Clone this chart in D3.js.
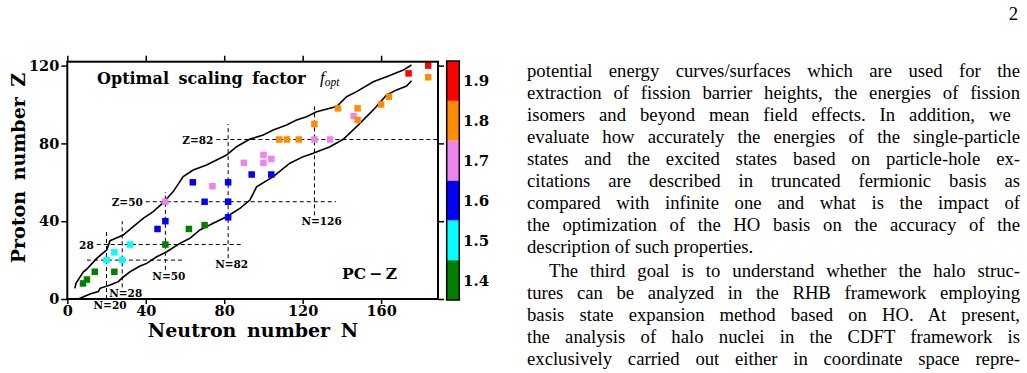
<!DOCTYPE html>
<html>
<head>
<meta charset="utf-8">
<script src="https://cdn.jsdelivr.net/npm/d3@7"></script>
<style>
body{margin:0;background:#fff;}
svg{display:block;}
.axis text{font-family:"DejaVu Serif";font-weight:bold;font-size:14.5px;fill:#000;}
.axis line{stroke:#000;stroke-width:1.5;}
.axis path{display:none;}
</style>
</head>
<body>
<script>
//page size
var w = 1027, h = 373;

//nuclei (neutron number, proton number, optimal scaling factor)
var nucN = [8, 10, 14, 24, 50, 62, 70,
            20, 24, 28, 32,
            46, 50, 70, 82, 82, 82, 64, 94, 104,
            50, 74, 90, 100, 100, 104, 126, 134, 146,
            108, 112, 118, 126, 138, 148, 148, 160, 164, 184,
            174, 184];
var nucZ = [8, 10, 14, 14, 28, 36, 38,
            20, 24, 20, 28,
            36, 40, 50, 50, 42, 60, 60, 64, 64,
            50, 58, 70, 74, 70, 72, 82, 82, 94,
            82, 82, 82, 90, 98, 98, 92, 100, 104, 114,
            116, 120];
var fOpt = [1.4, 1.4, 1.4, 1.4, 1.4, 1.4, 1.4,
            1.5, 1.5, 1.5, 1.5,
            1.6, 1.6, 1.6, 1.6, 1.6, 1.6, 1.6, 1.6, 1.6,
            1.7, 1.7, 1.7, 1.7, 1.7, 1.7, 1.7, 1.7, 1.7,
            1.8, 1.8, 1.8, 1.8, 1.8, 1.8, 1.8, 1.8, 1.8, 1.8,
            1.9, 1.9];

//proton drip line
var pDripN = [3.9, 4.4, 8.2, 9.5, 15.0, 20.1, 21.8, 23.5, 28.5, 33.6, 38.7, 43.8, 48.9, 54.0,
              59.1, 64.2, 71.0, 76.1, 81.2, 86.3, 93.1, 99.9, 105, 111.8, 116.9, 122, 127.1,
              137.3, 142.4, 147.5, 156, 162.8, 171.3, 175.5];
var pDripZ = [5.5, 8.1, 14.0, 14.9, 20.9, 25.2, 30.0, 30.7, 32.9, 37.2, 41.5, 44.9, 49.5, 55.2,
              62.9, 66.3, 68.9, 71.5, 74.0, 78.3, 82.2, 84.3, 86.9, 89.5, 92.0, 93.7, 96.3,
              98.9, 104, 106.6, 111.7, 114.3, 117.7, 120.3];
//neutron drip line
var nDripN = [5.6, 11.6, 15.8, 16.7, 21.8, 26, 27.7, 32, 37.1, 40.5, 45.6, 50.7, 57.4, 62.5,
              67.6, 74.4, 81.2, 88, 93.1, 96.5, 105, 113.5, 120.3, 125.4, 133.9, 140.7, 147.5,
              156, 162.8, 167.9, 173, 175.5];
var nDripZ = [0, 2.6, 3.8, 5.5, 7.2, 8.9, 10.6, 14, 17, 18.3, 21.7, 24.3, 28.6, 31.2,
              35.5, 38.9, 42.3, 46.6, 50.9, 57.7, 62.9, 69.8, 73.2, 74.9, 78.3, 82.1, 88.6,
              97.2, 104.9, 107.5, 109.5, 112.2];

//magic numbers: vertical (N) and horizontal (Z) dashed lines
var magicN = [20, 28, 50, 82, 126];
var magicNfrom = [0, 6, 15, 21, 43];
var magicNto = [35, 40, 55, 90, 100];
var magicNlabel = ["N=20", "N=28", "N=50", "N=82", "N=126"];
var magicZ = [20, 28, 50, 82];
var magicZfrom = [10, 15, 40, 76];
var magicZto = [60, 89, 137, 189];
var magicZlabel = ["", "28", "Z=50", "Z=82"];

//axis ticks
var xTicks = [0, 40, 80, 120, 160];
var yTicks = [0, 40, 80, 120];

//colour bar
var cbLevels = [1.4, 1.5, 1.6, 1.7, 1.8, 1.9];
var cbColors = ["#007f00", "#00ffff", "#0000ff", "#ee82ee", "#ff8c00", "#ff0000"];

//text column on the right
var bodyLines = [
    "potential energy curves/surfaces which are used for the",
    "extraction of fission barrier heights, the energies of fission",
    "isomers and beyond mean field effects.  In addition, we",
    "evaluate how accurately the energies of the single-particle",
    "states and the excited states based on particle-hole ex-",
    "citations are described in truncated fermionic basis as",
    "compared with infinite one and what is the impact of",
    "the optimization of the HO basis on the accuracy of the",
    "description of such properties.",
    "The third goal is to understand whether the halo struc-",
    "tures can be analyzed in the RHB framework employing",
    "basis state expansion method based on HO. At present,",
    "the analysis of halo nuclei in the CDFT framework is",
    "exclusively carried out either in coordinate space repre-"
];

var svg = d3.select("body").append("svg")
    .attr("width", w)
    .attr("height", h);

//scales
var x = d3.scaleLinear().domain([0, 189]).range([67.3, 438]);
var y = d3.scaleLinear().domain([0, 122]).range([299, 61.7]);
var color = d3.scaleQuantize().domain([1.35, 1.95]).range(cbColors);

//axes
svg.append("g").attr("class", "axis")
    .attr("transform", "translate(0," + y(0) + ")")
    .call(d3.axisBottom(x).tickValues(xTicks).tickSize(5).tickPadding(2));
svg.append("g").attr("class", "axis")
    .attr("transform", "translate(0," + y(122) + ")")
    .call(d3.axisTop(x).tickValues(xTicks).tickSize(6).tickFormat(""));
svg.append("g").attr("class", "axis")
    .attr("transform", "translate(" + x(0) + ",0)")
    .call(d3.axisLeft(y).tickValues(yTicks).tickSize(6).tickPadding(2));
svg.append("g").attr("class", "axis")
    .attr("transform", "translate(" + x(189) + ",0)")
    .call(d3.axisRight(y).tickValues(yTicks).tickSize(6).tickFormat(""));

//dashed magic-number lines
var dash = svg.append("g")
    .attr("stroke", "#000")
    .attr("stroke-width", 1)
    .attr("stroke-dasharray", "4,3");
magicN.forEach(function(n, i){
    dash.append("line")
        .attr("x1", x(n)).attr("x2", x(n))
        .attr("y1", y(magicNfrom[i])).attr("y2", y(magicNto[i]));
});
magicZ.forEach(function(z, i){
    dash.append("line")
        .attr("x1", x(magicZfrom[i])).attr("x2", x(magicZto[i]))
        .attr("y1", y(z)).attr("y2", y(z));
});

var small = svg.append("g")
    .style("font-family", "DejaVu Serif")
    .style("font-weight", "bold")
    .style("font-size", "10.5px");
magicN.forEach(function(n, i){
    small.append("text")
        .attr("x", x(n) - 13)
        .attr("y", y(magicNfrom[i]) + 10)
        .text(magicNlabel[i]);
});
magicZ.forEach(function(z, i){
    small.append("text")
        .attr("text-anchor", "end")
        .attr("x", x(magicZfrom[i]) - 3)
        .attr("y", y(z) + 4)
        .text(magicZlabel[i]);
});

//drip lines
var line = d3.line()
    .x(function(d){ return x(d[0]); })
    .y(function(d){ return y(d[1]); });
svg.append("path")
    .datum(d3.zip(pDripN, pDripZ))
    .attr("d", line)
    .attr("fill", "none").attr("stroke", "#000").attr("stroke-width", 1.6);
svg.append("path")
    .datum(d3.zip(nDripN, nDripZ))
    .attr("d", line)
    .attr("fill", "none").attr("stroke", "#000").attr("stroke-width", 1.6);

//nuclei squares
var sq = 6.5;
svg.selectAll(".nuc")
    .data(d3.range(nucN.length))
    .enter()
    .append("rect")
    .attr("class", "nuc")
    .attr("x", function(i){ return x(nucN[i]) - sq / 2; })
    .attr("y", function(i){ return y(nucZ[i]) - sq / 2; })
    .attr("width", sq)
    .attr("height", sq)
    .style("fill", function(i){ return color(fOpt[i]); });

//frame
svg.append("rect")
    .attr("x", x(0)).attr("y", y(122))
    .attr("width", x(189) - x(0)).attr("height", y(0) - y(122))
    .attr("fill", "none").attr("stroke", "#000").attr("stroke-width", 2);

//title and labels inside the frame
svg.append("text")
    .attr("x", 97).attr("y", 84)
    .style("font-family", "DejaVu Serif").style("font-weight", "bold").style("font-size", "16px")
    .style("word-spacing", "4px")
    .text("Optimal scaling factor");
var fo = svg.append("text")
    .attr("x", 320).attr("y", 83)
    .style("font-family", "Liberation Serif").style("font-style", "italic").style("font-size", "17px")
    .text("f");
fo.append("tspan").attr("dy", 3).style("font-size", "11.5px").text("opt");

svg.append("text")
    .attr("x", 342).attr("y", 279)
    .style("font-family", "DejaVu Serif").style("font-weight", "bold").style("font-size", "15.5px")
    .style("word-spacing", "-2px")
    .text("PC \u2212 Z");

//axis titles
svg.append("text")
    .attr("text-anchor", "middle")
    .attr("x", 253).attr("y", 337)
    .style("font-family", "DejaVu Serif").style("font-weight", "bold").style("font-size", "19px")
    .style("word-spacing", "4px")
    .text("Neutron number N");
svg.append("text")
    .attr("text-anchor", "middle")
    .attr("transform", "translate(25,168) rotate(-90)")
    .style("font-family", "DejaVu Serif").style("font-weight", "bold").style("font-size", "19px")
    .style("word-spacing", "4px")
    .text("Proton number Z");

//colour bar
var cy = d3.scaleLinear().domain([1.35, 1.95]).range([300, 61]);
var cb = svg.append("g");
cb.selectAll("rect")
    .data(cbLevels)
    .enter()
    .append("rect")
    .attr("x", 446.7)
    .attr("y", function(d){ return cy(d + 0.05); })
    .attr("width", 12.6)
    .attr("height", function(d){ return cy(d - 0.05) - cy(d + 0.05); })
    .style("fill", function(d){ return color(d); });
cb.append("rect")
    .attr("x", 446.7).attr("y", cy(1.95))
    .attr("width", 12.6).attr("height", cy(1.35) - cy(1.95))
    .attr("fill", "none").attr("stroke", "#000").attr("stroke-width", 1.5);
cb.selectAll("text")
    .data(cbLevels)
    .enter()
    .append("text")
    .attr("x", 463)
    .attr("y", function(d){ return cy(d) + 5.5; })
    .style("font-family", "DejaVu Serif").style("font-weight", "bold").style("font-size", "15px")
    .text(function(d){ return d.toFixed(1); });

//page number
svg.append("text")
    .attr("x", 1018).attr("y", 20).attr("text-anchor", "end")
    .style("font-family", "Liberation Serif").style("font-size", "18.7px")
    .text("2");

//justified text column
var colLeft = 527, colRight = 1020;
bodyLines.forEach(function(s, i){
    var indent = (i == 9) ? 22 : 0;
    var base = 77 + i * 22 + (i >= 9 ? 2 : 0);
    var t = svg.append("text")
        .attr("x", colLeft + indent).attr("y", base)
        .style("font-family", "Liberation Serif").style("font-size", "18.7px")
        .text(s);
    if (i != 8) {
        var len = t.node().getComputedTextLength();
        var spaces = s.split(" ").length - 1;
        t.style("word-spacing", ((colRight - colLeft - indent - len) / spaces) + "px");
    }
});
</script>
</body>
</html>
